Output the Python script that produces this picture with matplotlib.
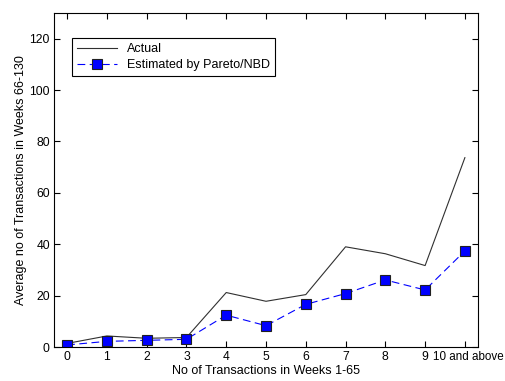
import numpy as np
import matplotlib
matplotlib.use("Agg")
import matplotlib.pyplot as plt
import matplotlib.transforms as mtransforms

plt.rcParams['font.family'] = ['Liberation Sans', 'DejaVu Sans']

categories = ['0', '1', '2', '3', '4', '5', '6', '7', '8', '9', '10 and above']
actual = [1.4, 4.3, 3.4, 3.7, 21.2, 17.8, 20.4, 39.0, 36.3, 31.7, 73.7]
estimated = [0.8, 2.2, 2.6, 3.0, 12.4, 8.3, 16.6, 20.8, 26.1, 22.2, 37.4]

x = np.arange(len(categories))

fig = plt.figure(figsize=(5.06, 3.81), dpi=100)
ax = fig.add_axes([0.1067, 0.0892, 0.838, 0.8767])

ax.plot(x, actual, color='#303030', lw=0.8, label='Actual')
ax.plot(x, estimated, color='blue', lw=0.8, ls=(0, (7, 4)), marker='s',
        markersize=7, markerfacecolor='blue', markeredgecolor='#202020',
        markeredgewidth=0.8, label='Estimated by Pareto/NBD')

ax.set_xlim(-0.33, 10.33)
ax.set_ylim(0, 130)
ax.set_xticks(x)
ax.set_xticklabels(categories)
ax.set_yticks([0, 20, 40, 60, 80, 100, 120])
ax.tick_params(direction='in', top=True, right=True, labelsize=8.7, length=4, pad=3)

# nudge the long last label to the right, as in the original
last = ax.get_xticklabels()[-1]
last.set_fontsize(8.4)
last.set_transform(last.get_transform() +
                   mtransforms.ScaledTranslation(3 / 100, 0, fig.dpi_scale_trans))

ax.set_xlabel('No of Transactions in Weeks 1-65', fontsize=9, labelpad=1)
ax.set_ylabel('Average no of Transactions in Weeks 66-130', fontsize=9, labelpad=2)

leg = ax.legend(loc='upper left', bbox_to_anchor=(0.042, 0.925), fontsize=9,
                fancybox=False, framealpha=1, edgecolor='black',
                borderaxespad=0, handlelength=3.2, labelspacing=0.35)
leg.get_frame().set_linewidth(0.8)

fig.savefig('out.png', dpi=100)
